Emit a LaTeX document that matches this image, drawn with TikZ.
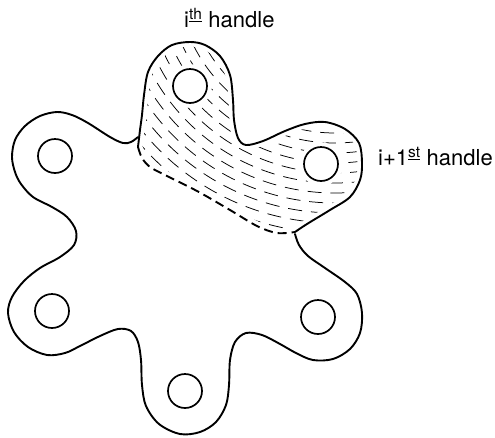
\documentclass[tikz,border=0pt]{standalone}
\usepackage{fontspec}
\setmainfont{TeX Gyre Heros}
\begin{document}
\begin{tikzpicture}[x=1pt,y=-1pt,
  outline/.style={line width=1.9pt, line join=round, line cap=round},
  dashline/.style={line width=1.9pt, dash pattern=on 9pt off 5pt},
  hole/.style={circle, draw, line width=1.7pt, minimum size=34pt, inner sep=0pt},
  hatch/.style={line width=0.75pt},
  lab/.style={anchor=base west, inner sep=0pt, font=\fontsize{22}{24}\selectfont}]
\useasboundingbox (0,0) rectangle (495,437);
% hatching of the shaded band
\begin{scope}[even odd rule]
\clip
  plot[smooth, tension=0.55] coordinates {(295,232) (307,224) (330,210) (350,197) (360,180) (362,163) (359,143) (345,129) (325,122) (305,124) (285,131) (263,141) (246,145) (238,138) (234,120) (233,100) (230,75) (220,56) (205,45) (190,42) (172,45) (158,56) (148,72) (144,95) (142,115) (140,130) (138,147)}
  -- plot[smooth, tension=0.55] coordinates {(138,147) (142,158) (150,167) (163,174) (197,191) (230,210) (257,226) (277,233) (295,232)} -- cycle
  (190,86) circle (22) (321,164) circle (22);
\foreach \r [count=\i] in {138,148,...,268} {
  \pgfmathsetmacro\ph{mod(\i*9,23)}
  \draw[hatch, dash pattern=on 14pt off 9pt, dash phase=\ph pt] (335,-25) circle (\r);
}
\end{scope}
% white gap along the band's border
\draw[white, line width=9pt]
  plot[smooth, tension=0.55] coordinates {(295,232) (307,224) (330,210) (350,197) (360,180) (362,163) (359,143) (345,129) (325,122) (305,124) (285,131) (263,141) (246,145) (238,138) (234,120) (233,100) (230,75) (220,56) (205,45) (190,42) (172,45) (158,56) (148,72) (144,95) (142,115) (140,130) (138,147)}
  -- plot[smooth, tension=0.55] coordinates {(138,147) (142,158) (150,167) (163,174) (197,191) (230,210) (257,226) (277,233) (295,232)} -- cycle;
% outline
\draw[outline] plot[smooth, tension=0.55] coordinates {(138,137) (131,142) (123,143) (110,137) (88,123) (72,115) (57,112) (40,116) (25,126) (15,140) (12,157) (15,172) (21,184) (33,197) (52,207) (67,217) (76,231) (74,245) (60,257) (40,268) (24,281) (12,297) (8,313) (14,332) (28,347) (47,355) (65,353) (80,346) (100,336) (118,329) (131,331) (138,342) (141,360) (142,385) (146,406) (159,424) (180,434) (200,432) (216,422) (226,405) (229,385) (230,360) (235,342) (246,333) (262,335) (280,344) (296,353) (313,360) (333,359) (350,349) (360,333) (362,313) (357,294) (345,282) (325,268) (308,256) (299,245) (295,234)};
\draw[outline] plot[smooth, tension=0.55] coordinates {(295,232) (307,224) (330,210) (350,197) (360,180) (362,163) (359,143) (345,129) (325,122) (305,124) (285,131) (263,141) (246,145) (238,138) (234,120) (233,100) (230,75) (220,56) (205,45) (190,42) (172,45) (158,56) (148,72) (144,95) (142,115) (140,130) (138,147)};
\draw[dashline] plot[smooth, tension=0.55] coordinates {(138,147) (142,158) (150,167) (163,174) (197,191) (230,210) (257,226) (277,233) (295,232)};
% holes
\node[hole] (htop) at (190,86) {};
\node[hole] (hright) at (321,164) {};
\node[hole] (hleft) at (55,156) {};
\node[hole] (hll) at (52,311) {};
\node[hole] (hbot) at (185,391) {};
\node[hole] (hlr) at (318,317) {};
% labels
\node[lab] (lab1) at (184,27) {i\textsuperscript{\underline{th}} handle};
\node[lab] (lab2) at (378,165) {i+1\textsuperscript{\underline{st}} handle};
\end{tikzpicture}
\end{document}
